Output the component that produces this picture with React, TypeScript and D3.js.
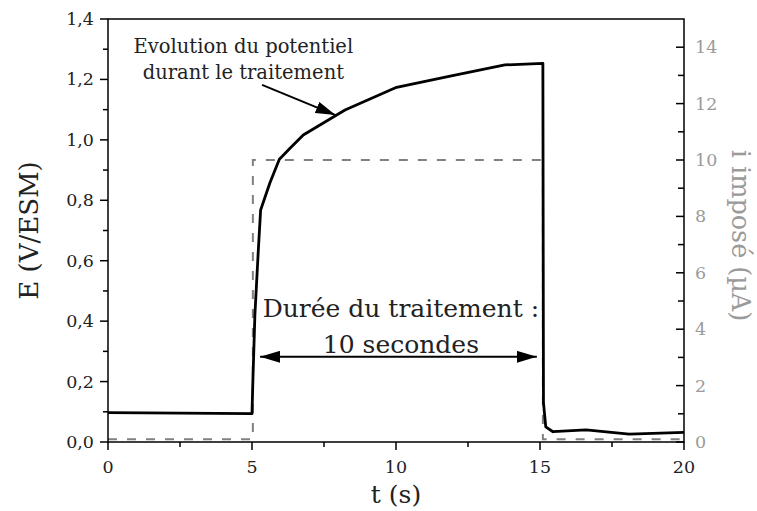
import React from "react";
import * as d3 from "d3";

// ---- data ----
const timeE = [0, 5.0, 5.03, 5.1, 5.22, 5.3, 5.62, 5.95, 6.32, 6.78, 8.23, 10.02, 11.88, 13.78, 15.1, 15.12, 15.2, 15.45, 16.6, 18.1, 20];
const potentialE = [0.097, 0.094, 0.2, 0.42, 0.636, 0.768, 0.857, 0.936, 0.972, 1.016, 1.099, 1.174, 1.211, 1.248, 1.253, 0.13, 0.05, 0.034, 0.04, 0.026, 0.032];
const timeI = [0, 5.03, 5.03, 15.1, 15.1, 20];
const currentI = [0.1, 0.1, 10, 10, 0.1, 0.1];

const xTicks = [0, 5, 10, 15, 20];
const xMinor = [2.5, 7.5, 12.5, 17.5];
const yTicks = [0, 0.2, 0.4, 0.6, 0.8, 1.0, 1.2, 1.4];
const yMinor = [0.1, 0.3, 0.5, 0.7, 0.9, 1.1, 1.3];
const y2Ticks = [0, 2, 4, 6, 8, 10, 12, 14];
const y2Minor = [1, 3, 5, 7, 9, 11, 13];

const xLabel = "t (s)";
const yLabel = "E (V/ESM)";
const y2Label = "i imposé (µA)";
const noteTop = ["Evolution du potentiel", "durant le traitement"];
const noteMid = ["Durée du traitement :", "10 secondes"];

// annotation anchors in data units
const notePoint = { t: 4.7, e: 1.182 };
const noteArrowStart = { t: 5.35, e: 1.182 };
const noteArrowEnd = { t: 7.9, e: 1.082 };
const spanStart = 5.28;
const spanEnd = 14.89;
const spanLevel = 0.282;
const midText = { t: 10.17, e: 0.414 };

const W = 757, H = 511;
const M = { left: 108, right: 73, top: 19, bottom: 69 };
const FONT = "'DejaVu Serif', serif";

export default function App() {
  const x = d3.scaleLinear().domain([0, 20]).range([M.left, W - M.right]);
  const y = d3.scaleLinear().domain([0, 1.4]).range([H - M.bottom, M.top]);
  const y2 = d3.scaleLinear().domain([0, 15]).range([H - M.bottom, M.top]);

  const lineE = d3.line<number>().x((_, i) => x(timeE[i])).y((d) => y(d));
  const lineI = d3.line<number>().x((_, i) => x(timeI[i])).y((d) => y2(d));

  const x0 = x(0), x1 = x(20), yb = y(0), yt = y(1.4);
  const fmt = (v: number) => v.toFixed(1).replace(".", ",");

  const aS = { x: x(noteArrowStart.t), y: y(noteArrowStart.e) };
  const aE = { x: x(noteArrowEnd.t), y: y(noteArrowEnd.e) };

  return (
    <svg width={W} height={H} style={{ position: "absolute", left: 0, top: 0, background: "#fff" }} fontFamily={FONT}>
      <defs>
        <marker id="ah" viewBox="0 0 20 12" refX="20" refY="6" markerWidth="20" markerHeight="12" markerUnits="userSpaceOnUse" orient="auto-start-reverse">
          <path d="M0,0 L20,6 L0,12 Z" fill="#000" />
        </marker>
      </defs>

      {/* current (dashed gray) */}
      <path d={lineI(currentI) || ""} fill="none" stroke="#808080" strokeWidth={2} strokeDasharray="9,10" />
      {/* potential */}
      <path d={lineE(potentialE) || ""} fill="none" stroke="#000" strokeWidth={2.8} strokeLinejoin="round" />

      {/* frame */}
      <rect x={x0} y={yt} width={x1 - x0} height={yb - yt} fill="none" stroke="#000" strokeWidth={1.5} />

      {/* bottom axis */}
      {xTicks.map((t) => (
        <g key={"xt" + t}>
          <line x1={x(t)} x2={x(t)} y1={yb} y2={yb + 8} stroke="#000" strokeWidth={1.5} />
          <text x={x(t)} y={yb + 31} fontSize={17.5} textAnchor="middle" fill="#222">{t}</text>
        </g>
      ))}
      {xMinor.map((t) => (
        <line key={"xm" + t} x1={x(t)} x2={x(t)} y1={yb} y2={yb + 5} stroke="#000" strokeWidth={1.5} />
      ))}

      {/* left axis */}
      {yTicks.map((v) => (
        <g key={"yt" + v}>
          <line x1={x0 - 8} x2={x0} y1={y(v)} y2={y(v)} stroke="#000" strokeWidth={1.5} />
          <text x={x0 - 14} y={y(v) + 6} fontSize={17.5} textAnchor="end" fill="#222">{fmt(v)}</text>
        </g>
      ))}
      {yMinor.map((v) => (
        <line key={"ym" + v} x1={x0 - 5} x2={x0} y1={y(v)} y2={y(v)} stroke="#000" strokeWidth={1.5} />
      ))}

      {/* right axis */}
      {y2Ticks.map((v) => (
        <g key={"y2t" + v}>
          <line x1={x1 - 8} x2={x1} y1={y2(v)} y2={y2(v)} stroke="#000" strokeWidth={1.5} />
          <text x={x1 + 11} y={y2(v) + 6} fontSize={17.5} textAnchor="start" fill="#9a9a9a">{v}</text>
        </g>
      ))}
      {y2Minor.map((v) => (
        <line key={"y2m" + v} x1={x1 - 6} x2={x1} y1={y2(v)} y2={y2(v)} stroke="#000" strokeWidth={1.5} />
      ))}

      {/* axis titles */}
      <text x={(x0 + x1) / 2} y={503} fontSize={25} textAnchor="middle" fill="#222">{xLabel}</text>
      <text transform={`translate(38,${(yb + yt) / 2}) rotate(-90)`} fontSize={26} textAnchor="middle" fill="#222">{yLabel}</text>
      <text transform={`translate(732,${(yb + yt) / 2 + 5}) rotate(90)`} fontSize={25.5} textAnchor="middle" fill="#9a9a9a">{y2Label}</text>

      {/* annotation: evolution */}
      <text x={x(notePoint.t)} y={53} fontSize={19.5} textAnchor="middle" fill="#222">{noteTop[0]}</text>
      <text x={x(notePoint.t)} y={79} fontSize={19.5} textAnchor="middle" fill="#222">{noteTop[1]}</text>
      <line x1={aS.x} y1={aS.y} x2={aE.x} y2={aE.y} stroke="#000" strokeWidth={2} markerEnd="url(#ah)" />

      {/* annotation: duration */}
      <text x={x(midText.t)} y={y(midText.e)} fontSize={25} textAnchor="middle" fill="#222">{noteMid[0]}</text>
      <text x={x(midText.t)} y={y(midText.e) + 36} fontSize={25} textAnchor="middle" fill="#222">{noteMid[1]}</text>
      <line x1={x(spanStart)} x2={x(spanEnd)} y1={y(spanLevel)} y2={y(spanLevel)} stroke="#000" strokeWidth={2} markerStart="url(#ah)" markerEnd="url(#ah)" />
    </svg>
  );
}
